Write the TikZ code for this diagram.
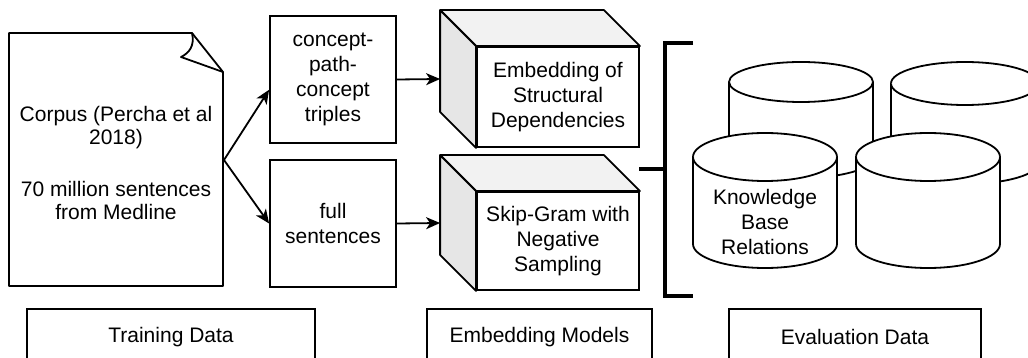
\documentclass[tikz,border=0pt]{standalone}
\usepackage{fontspec}
\setmainfont{Liberation Sans}
\usetikzlibrary{arrows.meta,calc}
\definecolor{topf}{HTML}{F2F2F2}
\definecolor{leftf}{HTML}{E6E6E6}
\newcommand\dbcyl[5]{%
  \draw[cyl] (#1-#4,#2+#5) -- (#1-#4,#3-#5)
    arc[start angle=180,end angle=0,x radius=#4,y radius=#5]
    -- (#1+#4,#2+#5)
    arc[start angle=0,end angle=-180,x radius=#4,y radius=#5] -- cycle;
  \draw[cyl] (#1-#4,#2+#5) arc[start angle=180,end angle=0,x radius=#4,y radius=#5];
}
\begin{document}
\begin{tikzpicture}[x=1pt,y=-1pt,
  line width=1.8pt,
  txt/.style={align=center,font=\fontsize{21}{25}\selectfont},
  box/.style={draw,fill=white,line width=1.8pt,align=center,inner sep=0pt},
  arr/.style={-{Stealth[length=14pt,width=12pt,inset=4pt]},line width=1.8pt},
  face/.style={draw,line width=1.8pt,line join=round},
  cyl/.style={draw,fill=white,line width=1.8pt},
  brk/.style={line width=3.5pt}]
\useasboundingbox (0,0) rectangle (1028,358);
\clip (0,0) rectangle (1028,358);

% corpus document
\draw[face,fill=white] (9,33) -- (192,33) -- (223,72) -- (223,286) -- (9,286) -- cycle;
\draw[face] (192,33) .. controls (195,46) and (189,53) .. (181,57) -- (223,72);
\node[txt,font=\fontsize{21}{23}\selectfont] (corpus) at (116,163)
  {Corpus (Percha et al\\2018)\\[29pt]70 million sentences\\from Medline};
\coordinate (br) at (224,160);

% training inputs
\node[box,txt,minimum width=126pt,minimum height=127pt] (c1) at (333,79.5)
  {concept-\\path-\\concept\\triples};
\node[box,txt,minimum width=126pt,minimum height=127pt] (c2) at (333,223.5)
  {full\\sentences};

\draw[arr] (br) -- ($(c1.north west)!0.58!(c1.south west)$);
\draw[arr] (br) -- (c2.west);

% cubes
\node[box,txt,minimum width=162pt,minimum height=100pt] (m1) at (558,97)
  {Embedding of\\Structural\\Dependencies};
\node[box,txt,minimum width=162pt,minimum height=98pt] (m2) at (558,241)
  {Skip-Gram with\\Negative\\Sampling};
\foreach \m in {m1,m2}{
  \draw[face,fill=topf] (\m.north west) -- ++(-36,-36)
     -- ($(\m.north east)+(-36,-36)$) -- (\m.north east) -- cycle;
  \draw[face,fill=leftf] (\m.north west) -- ++(-36,-36)
     -- ($(\m.south west)+(-36,-36)$) -- (\m.south west) -- cycle;
}
\draw[arr] (c1.east) -- ($(m1.west)+(-36,-18)$);
\draw[arr] (c2.east) -- ($(m2.west)+(-36,-18)$);

% bracket
\coordinate (bt) at (693,43);
\coordinate (bb) at (693,296);
\coordinate (bm) at (665,169);
\coordinate (bs) at (639,169);
\draw[brk] (bt) -- (665,43) -- (665,296) -- (bb);
\draw[brk] (bs) -- (bm);

% cylinders
\dbcyl{801}{62}{178}{72}{20}
\dbcyl{965}{62}{184}{74}{21.5}
\dbcyl{765}{133}{268}{72}{24}
\dbcyl{928}{133}{268}{72}{24}
\node[txt] (kb) at (765,222) {Knowledge\\Base\\Relations};

% bottom labels
\node[box,txt,minimum width=288pt,minimum height=56pt] (td) at (171,337) {Training Data};
\node[box,txt,minimum width=225pt,minimum height=56pt] (em) at (539.5,337) {Embedding Models};
\node[box,txt,minimum width=252pt,minimum height=56pt] (ev) at (855,337) {Evaluation Data};
\end{tikzpicture}
\end{document}
